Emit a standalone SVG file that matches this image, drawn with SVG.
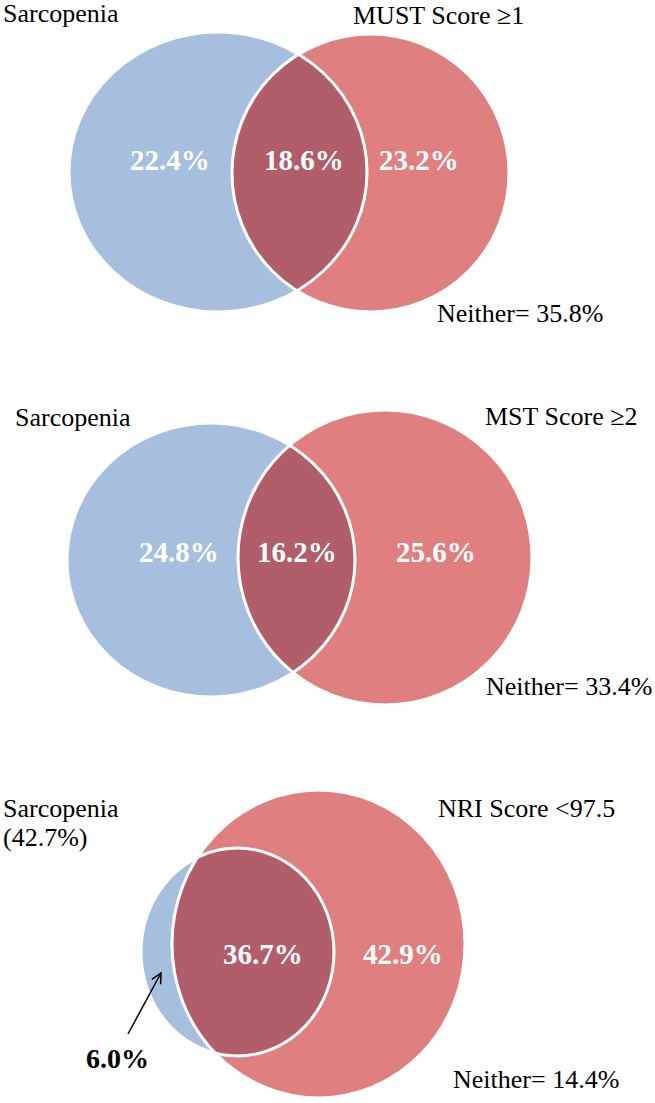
<svg xmlns="http://www.w3.org/2000/svg" width="655" height="1103" viewBox="0 0 655 1103">
<style>
.blue{fill:#a7bfde}
.red{fill:#e07f7f}
.dark{fill:#b25d6a}
.edge{fill:none;stroke:#ffffff;stroke-width:3}
.lbl{font-size:26px;fill:#000}
.num{font-size:29px;font-weight:bold;fill:#ffffff}
.numk{font-size:28px;font-weight:bold;fill:#000}
</style>
<defs>
<clipPath id="c1"><ellipse cx="218" cy="172" rx="149" ry="140"/></clipPath>
<clipPath id="c2"><ellipse cx="211" cy="560" rx="144" ry="137"/></clipPath>
<clipPath id="c3"><ellipse cx="237.5" cy="952" rx="96.5" ry="104"/></clipPath>
<marker id="ah" viewBox="0 0 12 12" refX="11" refY="6" markerWidth="12" markerHeight="12" markerUnits="userSpaceOnUse" orient="auto">
<path d="M1,1 L11,6 L1,11" fill="none" stroke="#000" stroke-width="1.5"/>
</marker>
</defs>

<g id="venn1">
<g id="v1-sarcopenia">
<ellipse class="blue" cx="218" cy="172" rx="149" ry="140"/>
<text class="lbl" x="3" y="22" style="font-family:'Liberation Serif'">Sarcopenia</text>
<text class="num" x="130" y="170" style="font-family:'Liberation Serif'">22.4%</text>
</g>
<g id="v1-must">
<ellipse class="red" cx="370.5" cy="173" rx="138.5" ry="139"/>
<text class="lbl" x="353" y="24" style="font-family:'Liberation Serif'">MUST Score ≥1</text>
<text class="num" x="379" y="170" style="font-family:'Liberation Serif'">23.2%</text>
</g>
<g id="v1-both">
<ellipse class="dark" cx="370.5" cy="173" rx="138.5" ry="139" clip-path="url(#c1)"/>
<ellipse class="edge" cx="218" cy="172" rx="149" ry="140"/>
<ellipse class="edge" cx="370.5" cy="173" rx="138.5" ry="139"/>
<text class="num" x="264" y="170" style="font-family:'Liberation Serif'">18.6%</text>
</g>
<text id="v1-neither" class="lbl" x="437" y="322" style="font-family:'Liberation Serif'">Neither= 35.8%</text>
</g>

<g id="venn2">
<g id="v2-sarcopenia">
<ellipse class="blue" cx="211" cy="560" rx="144" ry="137"/>
<text class="lbl" x="15" y="426" style="font-family:'Liberation Serif'">Sarcopenia</text>
<text class="num" x="139" y="562" style="font-family:'Liberation Serif'">24.8%</text>
</g>
<g id="v2-mst">
<ellipse class="red" cx="385" cy="557.5" rx="147" ry="147.5"/>
<text class="lbl" x="485" y="425" style="font-family:'Liberation Serif'">MST Score ≥2</text>
<text class="num" x="396" y="562" style="font-family:'Liberation Serif'">25.6%</text>
</g>
<g id="v2-both">
<ellipse class="dark" cx="385" cy="557.5" rx="147" ry="147.5" clip-path="url(#c2)"/>
<ellipse class="edge" cx="211" cy="560" rx="144" ry="137"/>
<ellipse class="edge" cx="385" cy="557.5" rx="147" ry="147.5"/>
<text class="num" x="257" y="562" style="font-family:'Liberation Serif'">16.2%</text>
</g>
<text id="v2-neither" class="lbl" x="486" y="695" style="font-family:'Liberation Serif'">Neither= 33.4%</text>
</g>

<g id="venn3">
<g id="v3-sarcopenia">
<ellipse class="blue" cx="237.5" cy="952" rx="96.5" ry="104"/>
<text class="lbl" x="3" y="817" style="font-family:'Liberation Serif'">Sarcopenia</text>
<text class="lbl" x="3" y="846" style="font-family:'Liberation Serif'">(42.7%)</text>
</g>
<g id="v3-nri">
<ellipse class="red" cx="318.5" cy="944" rx="146.5" ry="154"/>
<text class="lbl" x="438" y="817" style="font-family:'Liberation Serif'">NRI Score &lt;97.5</text>
<text class="num" x="363" y="964" style="font-family:'Liberation Serif'">42.9%</text>
</g>
<g id="v3-both">
<ellipse class="dark" cx="318.5" cy="944" rx="146.5" ry="154" clip-path="url(#c3)"/>
<ellipse class="edge" cx="237.5" cy="952" rx="96.5" ry="104"/>
<ellipse class="edge" cx="318.5" cy="944" rx="146.5" ry="154"/>
<text class="num" x="223" y="964" style="font-family:'Liberation Serif'">36.7%</text>
</g>
<g id="v3-only">
<text class="numk" x="86" y="1068" style="font-family:'Liberation Serif'">6.0%</text>
</g>
<text id="v3-neither" class="lbl" x="453" y="1088" style="font-family:'Liberation Serif'">Neither= 14.4%</text>
</g>

<g id="connectors">
<line x1="128" y1="1034" x2="161" y2="973" stroke="#000" stroke-width="1.5" marker-end="url(#ah)"/>
</g>
</svg>
